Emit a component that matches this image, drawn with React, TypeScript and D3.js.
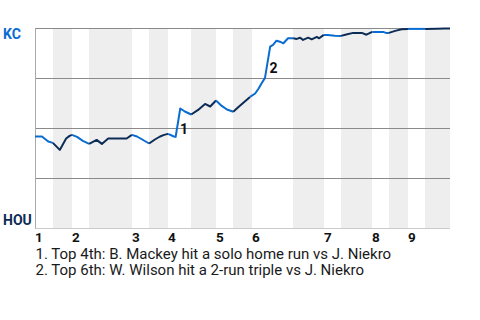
import React from "react";
import * as d3 from "d3";

// Win probability for KC (visiting team), per play, x = play index
const playIndex = [
  0, 1.2, 2.3, 3.1, 4.3, 5.4, 6.0, 6.4, 7.3, 8.3, 9.4, 10.7, 11.6, 12.7, 13.7, 14.7, 15.9, 16.8,
  17.7, 18.6, 19.8, 20.8, 21.7, 22.4, 23.1, 24.1, 24.4, 25.2, 26.0, 27.1, 28.3, 29.5, 30.4, 31.4,
  32.4, 33.3, 34.4, 35.3, 36.3, 37.3, 38.2, 38.8, 39.3, 39.9, 40.8, 41.3, 41.9, 42.5, 43.1, 43.9,
  44.8, 45.4, 46.0, 46.5, 47.4, 48.0, 48.9, 49.3, 50.1, 50.8, 52.0, 53.1, 54.0, 55.2, 56.7, 57.5,
  58.5, 60.4, 60.9, 61.4, 62.5, 63.6, 64.7, 66.1, 67.7, 69.7, 71.1, 72,
];
const kcWinPct = [
  46, 46, 43.5, 42.8, 39.3, 45, 46.3, 46.8, 45.8, 43.8, 42.3, 44.3, 42.3, 45, 45, 45, 45, 46.8,
  46, 44.5, 42.5, 44.5, 46, 46.8, 47.3, 46, 45.8, 60, 58.5, 57, 59.3, 62.3, 61, 64,
  61.3, 59.5, 58.4, 60.8, 63.3, 65.8, 67.5, 70, 72.5, 75.3, 90.9, 91.8, 93.9, 93.4, 92.6, 95.1,
  95.1, 94.8, 95.4, 94.3, 95.4, 94.6, 95.8, 95.1, 96.8, 96.8, 96.4, 96.3, 97, 97.8, 97.8, 96.9,
  98.3, 98.3, 97.8, 97.8, 98.8, 99.6, 99.8, 99.8, 99.8, 99.9, 100, 100,
];

// Start of each half-inning (play index), last value = end of game
const halfInningStarts = [
  0, 3.12, 6.42, 9.37, 16.83, 19.78, 23.07, 27.06, 31.4, 34.35, 37.65, 44.76, 50.14, 53.09,
  58.47, 61.42, 64.71, 67.66, 72,
];
const inningLabels = ["1", "2", "3", "4", "5", "6", "7", "8", "9"];

const wpTicks = [0, 25, 50, 75, 100];
const teamTop = "KC";
const teamBottom = "HOU";

// annotated plays (index into data arrays)
const annotationPoint = [27, 44];
const annotationMark = ["1", "2"];
const annotationText = [
  "1. Top 4th: B. Mackey hit a solo home run vs J. Niekro",
  "2. Top 6th: W. Wilson hit a 2-run triple vs J. Niekro",
];

const KC_BLUE = "#0a6cd0";
const HOU_NAVY = "#0c2c56";
const FONT = "Roboto, 'Noto Sans', sans-serif";

export default function App() {
  const W = 480;
  const H = 320;
  const left = 35;
  const right = 450;
  const top = 28.5;
  const bottom = 228.5;

  const x = d3.scaleLinear().domain([0, 72]).range([left, right]);
  const y = d3.scaleLinear().domain([0, 100]).range([bottom, top]);

  const pts = playIndex.map((p, i) => [p, kcWinPct[i]] as [number, number]);
  const line = d3
    .line<[number, number]>()
    .x((d) => x(d[0]))
    .y((d) => y(d[1]));

  // group points per half inning (including previous point)
  const segments: { d: string; color: string }[] = [];
  for (let h = 0; h < halfInningStarts.length - 1; h++) {
    const s = halfInningStarts[h];
    const e = halfInningStarts[h + 1];
    const group: [number, number][] = [];
    for (let i = 0; i < pts.length; i++) {
      const mid = i > 0 ? (pts[i - 1][0] + pts[i][0]) / 2 : pts[i][0];
      if (mid >= s && mid < e) {
        if (group.length === 0 && i > 0) group.push(pts[i - 1]);
        group.push(pts[i]);
      }
    }
    if (group.length > 1)
      segments.push({ d: line(group) || "", color: h % 2 === 0 ? KC_BLUE : HOU_NAVY });
  }

  return (
    <svg
      width={W}
      height={H}
      style={{ position: "absolute", left: 0, top: 0, background: "#fff" }}
      fontFamily={FONT}
    >
      {halfInningStarts.slice(0, -1).map((s, h) =>
        h % 2 === 1 ? (
          <rect
            key={"b" + h}
            x={x(s)}
            y={top}
            width={x(halfInningStarts[h + 1]) - x(s)}
            height={bottom - top}
            fill="#eeeeee"
          />
        ) : null
      )}
      {wpTicks.map((t) => (
        <line
          key={"g" + t}
          x1={left}
          x2={right}
          y1={y(t)}
          y2={y(t)}
          stroke={t === 0 ? "#cccccc" : "#8a8a8a"}
          strokeWidth={1}
        />
      ))}
      <line x1={left + 0.5} x2={left + 0.5} y1={top} y2={bottom} stroke="#aaaaaa" />
      {segments.map((s, i) => (
        <path
          key={"s" + i}
          d={s.d}
          fill="none"
          stroke={s.color}
          strokeWidth={2}
          strokeLinejoin="round"
        />
      ))}
      {annotationPoint.map((idx, i) => {
        const a = pts[idx - 1];
        const b = pts[idx];
        const mx = (x(a[0]) + x(b[0])) / 2;
        const my = (y(a[1]) + y(b[1])) / 2;
        return (
          <text key={"am" + i} x={mx + 2} y={my + 11} fontSize={14} fontWeight="bold" fill="#111">
            {annotationMark[i]}
          </text>
        );
      })}
      <text x={3} y={39} fontSize={14} fontWeight="bold" fill={KC_BLUE}>
        {teamTop}
      </text>
      <text x={3} y={225} fontSize={14} fontWeight="bold" fill={HOU_NAVY}>
        {teamBottom}
      </text>
      {inningLabels.map((l, i) => (
        <text key={"i" + i} x={x(halfInningStarts[i * 2])} y={242} fontSize={13.5} fontWeight="bold" fill="#111">
          {l}
        </text>
      ))}
      {annotationText.map((t, i) => (
        <text key={"t" + i} x={35.5} y={259 + i * 16} fontSize={15} fill="#1a1a1a">
          {t}
        </text>
      ))}
    </svg>
  );
}
